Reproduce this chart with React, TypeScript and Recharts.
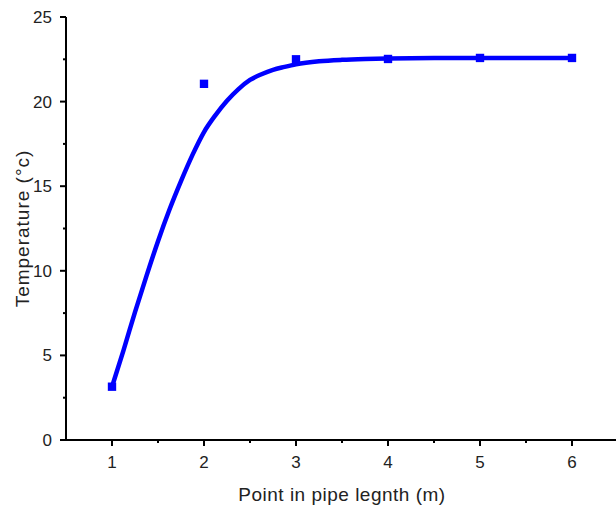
import { ComposedChart, Line, Scatter, XAxis, YAxis, ZAxis } from "recharts";

// measured points (square markers)
const pointX = [1, 2, 3, 4, 5, 6];
const pointTemp = [3.15, 21.05, 22.5, 22.52, 22.58, 22.58];

// fitted curve
const fitX = [
  1, 1.125, 1.25, 1.375, 1.5, 1.625, 1.75, 1.875, 2, 2.125, 2.25, 2.375, 2.5, 2.625, 2.75, 2.875, 3,
  3.25, 3.5, 3.75, 4, 4.5, 5, 5.5, 6,
];
const fitTemp = [
  3.15, 5.3, 7.56, 9.7, 11.75, 13.62, 15.3, 16.85, 18.2, 19.2, 20.05, 20.74, 21.28, 21.62, 21.88, 22.05, 22.2,
  22.38, 22.47, 22.52, 22.55, 22.57, 22.58, 22.58, 22.58,
];

const xTicks = [1, 1.5, 2, 2.5, 3, 3.5, 4, 4.5, 5, 5.5, 6];
const yTicks = [0, 2.5, 5, 7.5, 10, 12.5, 15, 17.5, 20, 22.5, 25];

const FONT = "'Liberation Sans', Arial, sans-serif";
const BLUE = "#0000FF";

const points = pointX.map((x, i) => ({ x, y: pointTemp[i] }));
const curve = fitX.map((x, i) => ({ x, y: fitTemp[i] }));

// tick with major/minor marks; labels only on the major ones
const XTick = ({ x, y, payload }: any) => {
  const major = Number.isInteger(payload.value);
  return (
    <g>
      <line x1={x} x2={x} y1={y} y2={y + (major ? 6 : 3)} stroke="#000" strokeWidth={2} />
      {major && (
        <text x={x} y={y + 28} textAnchor="middle" fontSize={17} fontFamily={FONT} fill="#222">
          {payload.value}
        </text>
      )}
    </g>
  );
};

const YTick = ({ x, y, payload }: any) => {
  const major = payload.value % 5 === 0;
  return (
    <g>
      <line x1={x - (major ? 6 : 3)} x2={x} y1={y} y2={y} stroke="#000" strokeWidth={2} />
      {major && (
        <text x={x - 14} y={y} dy="0.35em" textAnchor="end" fontSize={17} fontFamily={FONT} fill="#222">
          {payload.value}
        </text>
      )}
    </g>
  );
};

export default function App() {
  return (
    <div style={{ width: 616, height: 512, overflow: "hidden", background: "#fff" }}>
      <style>{`body{margin:0}`}</style>
      <ComposedChart width={618} height={512} margin={{ top: 17, right: 0, left: 0, bottom: 0 }}>
        <XAxis
          type="number"
          dataKey="x"
          domain={[0.5, 6.5]}
          ticks={xTicks}
          interval={0}
          allowDataOverflow
          height={72}
          tickSize={0}
          tickMargin={0}
          tickLine={false}
          tick={<XTick />}
          axisLine={{ stroke: "#000", strokeWidth: 2 }}
          label={{
            value: "Point in pipe legnth (m)",
            position: "insideBottom",
            offset: 11,
            style: { fontSize: 19, fontFamily: FONT, fill: "#222", letterSpacing: 0.5 },
          }}
        />
        <YAxis
          type="number"
          dataKey="y"
          domain={[0, 25]}
          ticks={yTicks}
          interval={0}
          width={66}
          tickSize={0}
          tickMargin={0}
          tickLine={false}
          tick={<YTick />}
          axisLine={{ stroke: "#000", strokeWidth: 2 }}
          label={{
            value: "Temperature (°c)",
            angle: -90,
            position: "insideLeft",
            offset: 22,
            style: { textAnchor: "middle", fontSize: 19, fontFamily: FONT, fill: "#222", letterSpacing: 1 },
          }}
        />
        <ZAxis range={[70, 70]} />
        <Line
          data={curve}
          dataKey="y"
          type="monotone"
          stroke={BLUE}
          strokeWidth={4.5}
          dot={false}
          activeDot={false}
          isAnimationActive={false}
        />
        <Scatter data={points} dataKey="y" fill={BLUE} shape="square" isAnimationActive={false} />
      </ComposedChart>
    </div>
  );
}
